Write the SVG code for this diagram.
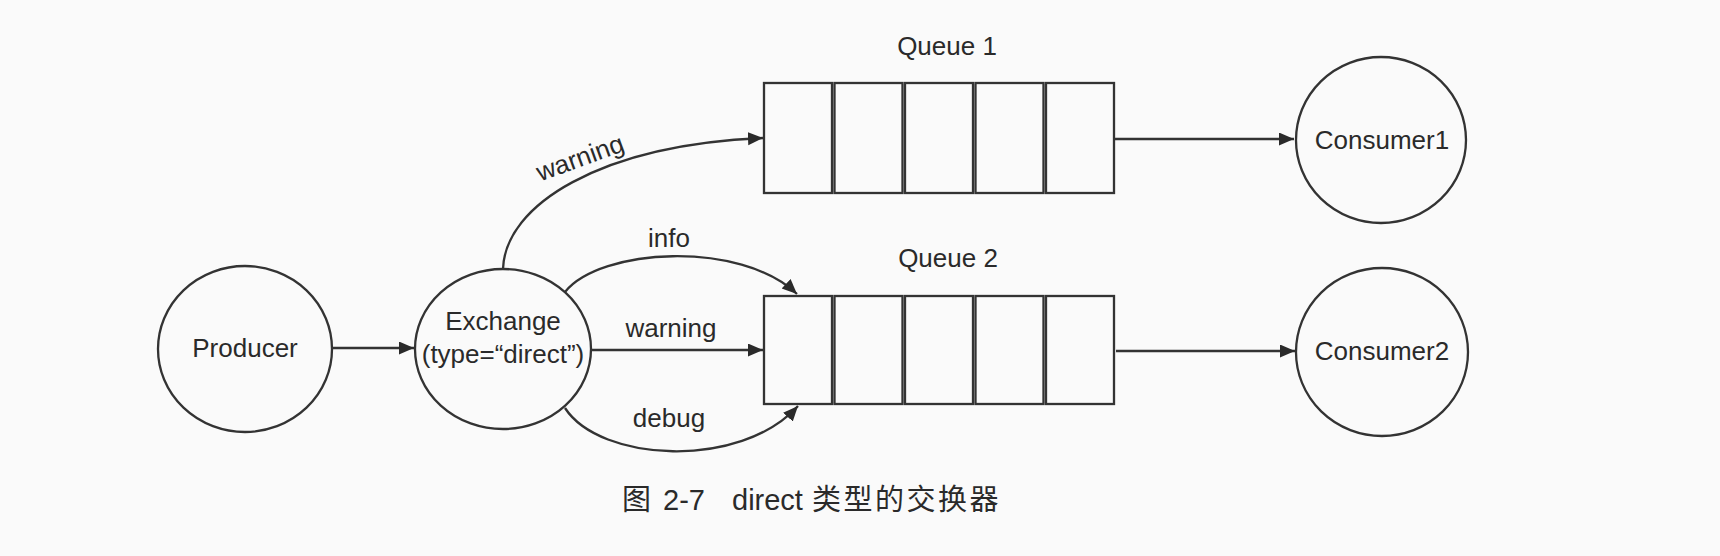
<svg xmlns="http://www.w3.org/2000/svg" width="1720" height="556" viewBox="0 0 1720 556">
<defs>
<style>
.bg{fill:#fafafa}
.node{fill:none;stroke:#333;stroke-width:2.3}
.cell{fill:none;stroke:#333;stroke-width:2.3}
.edge{fill:none;stroke:#333;stroke-width:2.3}
.t{font-family:"Liberation Sans",Arial,sans-serif;font-size:26px;fill:#2a2a2a;text-anchor:middle}
.cap{font-family:"Liberation Sans","Noto Sans CJK SC",sans-serif;font-size:29px;fill:#2a2a2a}
</style>
<marker id="arr" markerUnits="userSpaceOnUse" markerWidth="16" markerHeight="14" refX="15" refY="6.5" orient="auto">
<path d="M0,0 L15,6.5 L0,13 z" fill="#2a2a2a"/>
</marker>
</defs>
<rect class="bg" x="0" y="0" width="1720" height="556"/>

<g id="producer">
<ellipse class="node" cx="245" cy="349" rx="87" ry="83"/>
<text class="t" x="245" y="357">Producer</text>
</g>

<g id="exchange">
<ellipse class="node" cx="503" cy="349" rx="88" ry="80"/>
<text class="t" x="503" y="330">Exchange</text>
<text class="t" x="503" y="363">(type=“direct”)</text>
</g>

<g id="queue1">
<text class="t" x="947" y="55">Queue 1</text>
<rect class="cell" x="764" y="83" width="68" height="110"/>
<rect class="cell" x="834.5" y="83" width="68" height="110"/>
<rect class="cell" x="905" y="83" width="68" height="110"/>
<rect class="cell" x="975.5" y="83" width="68" height="110"/>
<rect class="cell" x="1046" y="83" width="68" height="110"/>
</g>

<g id="queue2">
<text class="t" x="948" y="267">Queue 2</text>
<rect class="cell" x="764" y="296" width="68" height="108"/>
<rect class="cell" x="834.5" y="296" width="68" height="108"/>
<rect class="cell" x="905" y="296" width="68" height="108"/>
<rect class="cell" x="975.5" y="296" width="68" height="108"/>
<rect class="cell" x="1046" y="296" width="68" height="108"/>
</g>

<g id="consumer1">
<ellipse class="node" cx="1381" cy="140" rx="85" ry="83"/>
<text class="t" x="1382" y="149">Consumer1</text>
</g>

<g id="consumer2">
<ellipse class="node" cx="1382" cy="352" rx="86" ry="84"/>
<text class="t" x="1382" y="360">Consumer2</text>
</g>

<g id="connectors">
<path class="edge" d="M332,348 L414,348" marker-end="url(#arr)"/>
<path class="edge" d="M503,269 C505,205 600,145 763,138" marker-end="url(#arr)"/>
<path class="edge" d="M565,292 C600,248 740,240 797,294" marker-end="url(#arr)"/>
<path class="edge" d="M591,350 L763,350" marker-end="url(#arr)"/>
<path class="edge" d="M565,408 C600,462 740,470 798,406" marker-end="url(#arr)"/>
<path class="edge" d="M1114,139 L1294,139" marker-end="url(#arr)"/>
<path class="edge" d="M1116,351 L1295,351" marker-end="url(#arr)"/>
<text class="t" transform="translate(583,166) rotate(-20)" x="0" y="0">warning</text>
<text class="t" x="669" y="247">info</text>
<text class="t" x="671" y="337">warning</text>
<text class="t" x="669" y="427">debug</text>
</g>

<text class="cap" y="510"><tspan x="622">图</tspan><tspan x="663">2-7</tspan><tspan x="732">direct</tspan><tspan x="812" letter-spacing="2.5">类型的交换器</tspan></text>
</svg>
